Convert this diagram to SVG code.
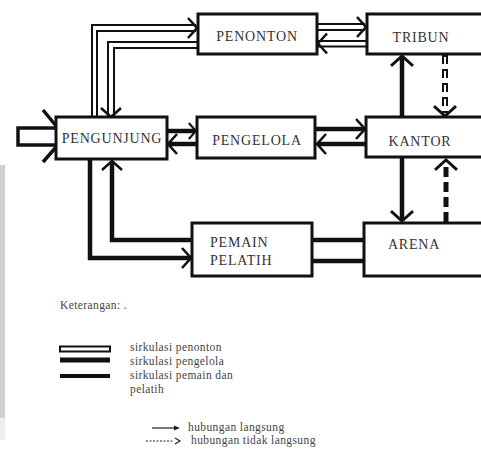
<svg xmlns="http://www.w3.org/2000/svg" width="481" height="458" viewBox="0 0 481 458">
<style>
.box{fill:#fff;stroke:#111;stroke-width:3}
.lbl{font-family:"Liberation Serif","Times New Roman",serif;font-size:14px;fill:#333;letter-spacing:0.8px}
.leg{font-family:"Liberation Serif","Times New Roman",serif;font-size:11.5px;fill:#444;letter-spacing:0.4px}
.thin{fill:none;stroke:#111;stroke-width:2}
.thick{fill:none;stroke:#111;stroke-width:4.5}
.chev{fill:none;stroke:#111;stroke-width:2.6;stroke-linejoin:miter}
</style>
<defs>
<path id="chev" class="chev" d="M-9,-10 L0,0 L-9,10"/>
</defs>
<rect x="0" y="165" width="5" height="253" fill="#d0d0d0"/>
<rect x="0" y="418" width="5" height="22" fill="#eeeeee"/>

<g id="connectors">
  <!-- entry into PENGUNJUNG -->
  <path d="M57,128 H18 V145 H57" fill="none" stroke="#111" stroke-width="3.5"/>
  <path d="M43,110 L57,127 M43,162 L57,146" fill="none" stroke="#111" stroke-width="3.5"/>
  <!-- PENGUNJUNG -> PENONTON -->
  <path class="thin" d="M92,117 V25 H196 M97,117 V31 H196"/>
  <use href="#chev" transform="translate(197,28)"/>
  <!-- PENONTON -> PENGUNJUNG -->
  <path class="thin" d="M198,42 H108 V116 M198,48 H114 V116"/>
  <use href="#chev" transform="translate(111,117) rotate(90)"/>
  <!-- PENONTON <-> TRIBUN -->
  <path class="thin" d="M317,24 H365 M317,30 H365"/>
  <use href="#chev" transform="translate(366,27)"/>
  <path class="thin" d="M366,41 H318 M366,46.5 H318"/>
  <use href="#chev" transform="translate(318,43.5) rotate(180)"/>
  <!-- PENGUNJUNG <-> PENGELOLA -->
  <path class="thick" d="M167,131 H195"/>
  <use href="#chev" transform="translate(196,131) scale(0.8)"/>
  <path class="thick" d="M197,144 H169"/>
  <use href="#chev" transform="translate(168,144) rotate(180)"/>
  <!-- PENGELOLA <-> KANTOR -->
  <path class="thick" d="M315,129 H364"/>
  <use href="#chev" transform="translate(365,129)"/>
  <path class="thick" d="M366,144 H318"/>
  <use href="#chev" transform="translate(317,144) rotate(180)"/>
  <!-- KANTOR -> TRIBUN -->
  <path class="thick" d="M402,117 V57"/>
  <use href="#chev" transform="translate(402,56) rotate(-90) scale(1.1)"/>
  <!-- TRIBUN -> KANTOR (dashed) -->
  <path d="M445,55 V113" fill="none" stroke="#111" stroke-width="6" stroke-dasharray="9 5"/>
  <path d="M445,56 V112" fill="none" stroke="#fff" stroke-width="2" stroke-dasharray="7 7" stroke-dashoffset="-1"/>
  <use href="#chev" transform="translate(445,116) rotate(90) scale(1.1)"/>
  <!-- KANTOR -> ARENA -->
  <path class="thick" d="M402,157 V220"/>
  <use href="#chev" transform="translate(402,221) rotate(90) scale(1.1)"/>
  <!-- ARENA -> KANTOR (dashed) -->
  <path d="M446,222 V162" fill="none" stroke="#111" stroke-width="5" stroke-dasharray="10 5"/>
  <use href="#chev" transform="translate(446,160) rotate(-90) scale(1.1)"/>
  <!-- PENGUNJUNG -> PEMAIN -->
  <path class="thick" d="M90,159 V258 H190" stroke-width="5"/>
  <use href="#chev" transform="translate(191,258)"/>
  <!-- PEMAIN -> PENGUNJUNG -->
  <path class="thick" d="M192,240 H112 V162" stroke-width="5"/>
  <use href="#chev" transform="translate(112,161) rotate(-90)"/>
  <!-- PEMAIN - ARENA -->
  <path class="thick" d="M312,240 H364 M312,261 H364"/>
</g>

<g id="penonton"><rect class="box" x="198" y="14" width="119" height="40"/><text class="lbl" x="257" y="41" text-anchor="middle">PENONTON</text></g>
<g id="tribun"><rect class="box" x="367" y="14" width="116" height="40"/><text class="lbl" x="421" y="42" text-anchor="middle">TRIBUN</text></g>
<g id="pengunjung"><rect class="box" x="56" y="117" width="111" height="42"/><text class="lbl" x="112" y="143" text-anchor="middle">PENGUNJUNG</text></g>
<g id="pengelola"><rect class="box" x="197" y="117" width="118" height="41"/><text class="lbl" x="257" y="145" text-anchor="middle">PENGELOLA</text></g>
<g id="kantor"><rect class="box" x="366" y="117" width="117" height="40"/><text class="lbl" x="420" y="146" text-anchor="middle">KANTOR</text></g>
<g id="pemain"><rect class="box" x="192" y="223" width="120" height="53"/><text class="lbl" x="210" y="247">PEMAIN</text><text class="lbl" x="210" y="265">PELATIH</text></g>
<g id="arena"><rect class="box" x="364" y="223" width="119" height="53"/><text class="lbl" x="414" y="249" text-anchor="middle">ARENA</text></g>

<g id="legend">
  <text class="leg" x="60" y="309">Keterangan: .</text>
  <rect x="60" y="346.5" width="50" height="5" fill="#fff" stroke="#111" stroke-width="2"/>
  <path d="M60,360 H110" stroke="#111" stroke-width="5"/>
  <path d="M60,376 H110" stroke="#111" stroke-width="4"/>
  <text class="leg" x="130" y="351">sirkulasi penonton</text>
  <text class="leg" x="130" y="365">sirkulasi pengelola</text>
  <text class="leg" x="130" y="379">sirkulasi pemain dan</text>
  <text class="leg" x="130" y="393">pelatih</text>
  <path d="M152,428 H175" stroke="#222" stroke-width="1.2"/>
  <path d="M174,425.5 L180,428 L174,430.5 Z" fill="#222"/>
  <text class="leg" x="188" y="431">hubungan langsung</text>
  <path d="M146,441 H174" stroke="#222" stroke-width="1.2" stroke-dasharray="2 1.5"/>
  <path d="M175,438 L180,441 L175,444" fill="none" stroke="#222" stroke-width="1.2"/>
  <text class="leg" x="191" y="444">hubungan tidak langsung</text>
</g>
</svg>
